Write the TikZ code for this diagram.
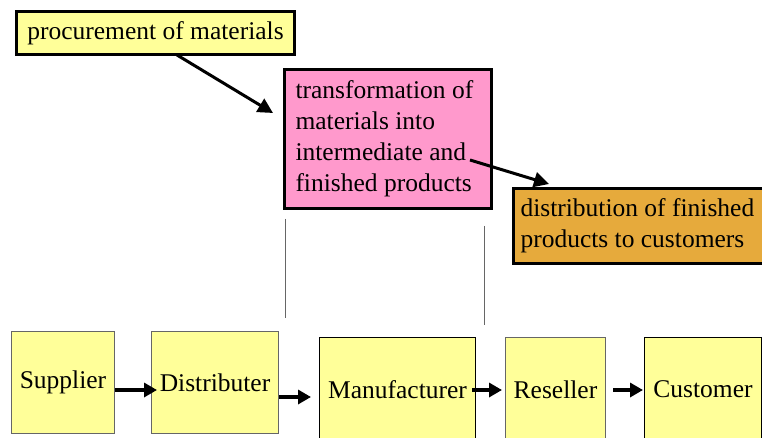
\documentclass[tikz,border=0pt]{standalone}
\usepackage{fontspec}
\setmainfont{Liberation Serif}
\usetikzlibrary{arrows.meta,positioning}
\definecolor{paleyellow}{RGB}{255,255,153}
\definecolor{pinkfill}{RGB}{255,153,204}
\definecolor{goldfill}{RGB}{230,170,60}
\tikzset{
  txt/.style={font=\fontsize{25.5}{31}\selectfont},
  topbox/.style={txt, draw=black, line width=3pt, anchor=north west, inner sep=0pt},
  stagebox/.style={txt, draw=black!60, line width=1pt, fill=paleyellow, anchor=north west, inner sep=0pt, align=center},
  stageboxdark/.style={stagebox, draw=black},
  thinarrow/.style={line width=3pt, -{Triangle[length=15pt,width=15pt]}},
  flow/.style={line width=4pt, -{Triangle[length=13pt,width=14pt]}},
  divider/.style={draw=black!60, line width=1pt}
}
\begin{document}
\begin{tikzpicture}[x=1pt,y=-1pt]
  \clip (0,0) rectangle (762,438);
  \fill[white] (0,0) rectangle (762,438);

  % upper stage descriptions
  \node[topbox, fill=paleyellow, minimum width=278, minimum height=43] (proc) at (15,10)
    {procurement of materials};
  \node[topbox, fill=pinkfill, minimum width=207, minimum height=139,
        text width=185, align=flush left] (trans) at (283,68)
    {transformation of\\materials into\\intermediate and\\finished products};
  \node[topbox, fill=goldfill, minimum width=264, minimum height=75,
        text width=250, align=flush left] (dist) at (512,187)
    {distribution of finished\\products to customers};

  % arrows between the descriptions
  \coordinate (p1) at (177,55);
  \coordinate (p2) at (273,113);
  \coordinate (t1) at (470,160);
  \coordinate (t2) at (549,184);
  \draw[thinarrow] (p1) -- (p2);
  \draw[thinarrow] (t1) -- (t2);

  % vertical markers bounding the transformation stage
  \coordinate (v1a) at (285,219);
  \coordinate (v1b) at (285,318);
  \coordinate (v2a) at (484,226);
  \coordinate (v2b) at (484,325);
  \draw[divider] (v1a) -- (v1b);
  \draw[divider] (v2a) -- (v2b);

  % supply chain members
  \node[stagebox, minimum width=103, minimum height=102] (sup) at (11,331) {Supplier};
  \node[stagebox, minimum width=127, minimum height=102] (dis) at (151,331) {Distributer};
  \node[stageboxdark, minimum width=156, minimum height=104] (man) at (319,337) {Manufacturer};
  \node[stagebox, minimum width=100, minimum height=104] (res) at (505,337) {Reseller};
  \node[stageboxdark, minimum width=117, minimum height=104] (cus) at (644,337) {Customer};

  % flow along the chain
  \draw[flow] (sup.east |- 0,390) -- ([xshift=6pt]dis.west |- 0,390);
  \draw[flow] (dis.east |- 0,397) -- ([xshift=-8pt]man.west |- 0,397);
  \draw[flow] ([xshift=-4pt]man.east |- 0,390) -- ([xshift=-3pt]res.west |- 0,390);
  \draw[flow] ([xshift=7pt]res.east |- 0,390) -- ([xshift=-1pt]cus.west |- 0,390);
\end{tikzpicture}
\end{document}
